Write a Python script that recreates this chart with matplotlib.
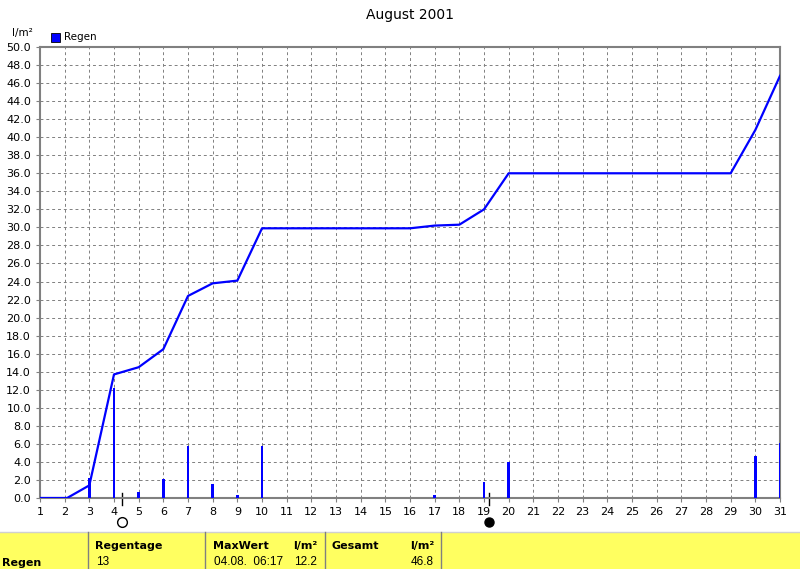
import matplotlib
matplotlib.use("Agg")
import matplotlib.pyplot as plt
import matplotlib.transforms as mtransforms
from matplotlib.patches import Rectangle

# daily rain (bars) in l/m²
rain_days = [3, 4, 5, 6, 7, 8, 9, 10, 17, 19, 20, 30, 31]
rain_vals = [2.2, 12.2, 0.7, 2.1, 5.8, 1.5, 0.3, 5.8, 0.3, 1.8, 4.0, 4.65, 6.1]

# cumulative sum line
cum_days = [1, 2, 2.1, 3, 4, 5, 6, 7, 8, 9, 10, 16, 17, 18, 19, 20, 29, 30, 31]
cum_vals = [0, 0, 0, 1.4, 13.7, 14.5, 16.5, 22.4, 23.8, 24.1, 29.9, 29.9, 30.2, 30.3, 32.0, 36.0, 36.0, 40.8, 46.8]

# moon phases
moon_days = [4.33, 19.2]
moon_filled = [False, True]

x_ticks = list(range(1, 32))
y_ticks = [i * 2.0 for i in range(26)]

table_heads = ["Regentage", "MaxWert", "Gesamt"]
table_vals = ["13", "04.08.  06:17", ""]
table_units = ["", "12.2", "46.8"]

BLUE = "#0000ff"
GRAY = "#808080"

fig = plt.figure(figsize=(8, 5.69), dpi=100)
ax = fig.add_axes([0.05, 1 - 498 / 569, 0.925, 451 / 569])

ax.bar(rain_days, rain_vals, width=0.12, color=BLUE, zorder=3)
ax.plot(cum_days, cum_vals, color=BLUE, lw=1.6, zorder=4)

ax.set_xlim(1, 31)
ax.set_ylim(0, 50)
ax.set_xticks(x_ticks)
ax.set_yticks(y_ticks)
ax.set_yticklabels(["%.1f" % v for v in y_ticks])
ax.tick_params(labelsize=8, length=3, color=GRAY)
ax.grid(True, color=GRAY, linestyle=(0, (3, 3)), lw=0.7)
for s in ax.spines.values():
    s.set_color(GRAY)
    s.set_linewidth(1.5)

ax.set_title("August 2001", fontsize=10, pad=20)
fig.text(12 / 800, 1 - 33 / 569, "l/m²", fontsize=7.5, va="center")
fig.patches.append(Rectangle((51 / 800, 1 - 42 / 569), 9 / 800, 9 / 569,
                             transform=fig.transFigure, facecolor=BLUE,
                             edgecolor="black", lw=0.6))
fig.text(64 / 800, 1 - 37 / 569, "Regen", fontsize=7.5, va="center")

# moon phase markers below the axis
trans = mtransforms.blended_transform_factory(ax.transData, ax.transAxes)
for d, filled in zip(moon_days, moon_filled):
    ax.plot([d, d], [0.011, -0.016], color="black", lw=1, transform=trans, clip_on=False)
    ax.plot(d, -0.053, marker="o", ms=7 if not filled else 6.5, mec="black", mew=1,
            mfc="black" if filled else "white", transform=trans, clip_on=False)

# summary table
fig.patches.append(Rectangle((0, 0), 1, 37 / 569, transform=fig.transFigure,
                             facecolor="#ffff60", edgecolor="none"))
fig.add_artist(plt.Line2D([0, 1], [37 / 569, 37 / 569], color="#d0d0d0", lw=1))
for xd in [88, 205, 325, 441]:
    fig.add_artist(plt.Line2D([xd / 800, xd / 800], [0, 37 / 569], color=GRAY, lw=1))
fig.text(2 / 800, 1 - 563 / 569, "Regen", fontsize=8, fontweight="bold", va="center")
head_x = [95, 213, 331]
unit_x = [0, 317, 434]
for hx, ux, h, v, u in zip(head_x, unit_x, table_heads, table_vals, table_units):
    fig.text(hx / 800, 1 - 546 / 569, h, fontsize=8, fontweight="bold", va="center")
    if v:
        fig.text((hx + 1) / 800, 1 - 562 / 569, v, fontsize=8.5, va="center",
                 family="Liberation Sans")
    if u:
        fig.text(ux / 800, 1 - 546 / 569, "l/m²", fontsize=8, fontweight="bold",
                 va="center", ha="right")
        fig.text(ux / 800, 1 - 562 / 569, u, fontsize=8.5, va="center", ha="right",
                 family="Liberation Sans")

fig.savefig("out.png", dpi=100)
